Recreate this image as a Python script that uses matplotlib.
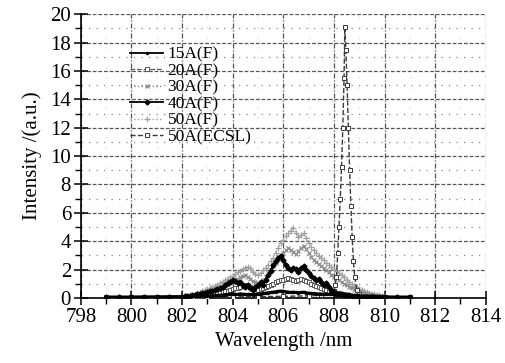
import matplotlib
matplotlib.use("Agg")
import matplotlib.pyplot as plt
from matplotlib.ticker import MultipleLocator
from matplotlib.lines import Line2D

plt.rcParams['font.family'] = ['Liberation Serif', 'DejaVu Serif']

wavelength = [799.0, 799.5, 800.0, 800.5, 801.0, 801.5,
              802.0, 802.1, 802.2, 802.3, 802.4, 802.5, 802.6, 802.7, 802.8, 802.9,
              803.0, 803.1, 803.2, 803.3, 803.4, 803.5, 803.6, 803.7, 803.8, 803.9,
              804.0, 804.1, 804.2, 804.3, 804.4, 804.5, 804.6, 804.7, 804.8, 804.9,
              805.0, 805.1, 805.2, 805.3, 805.4, 805.5, 805.6, 805.7, 805.8, 805.9,
              806.0, 806.1, 806.2, 806.3, 806.4, 806.5, 806.6, 806.7, 806.8, 806.9,
              807.0, 807.1, 807.2, 807.3, 807.4, 807.5, 807.6, 807.7, 807.8, 807.9,
              808.0, 808.1, 808.2, 808.3, 808.4, 808.5, 808.6, 808.7, 808.8, 808.9,
              809.0, 809.1, 809.2, 809.3, 809.4, 809.5, 809.6, 809.7, 809.8, 809.9,
              810.0, 810.5, 811.0]

i15 = [0.08, 0.08, 0.08, 0.09, 0.09, 0.10,
       0.10, 0.10, 0.11, 0.11, 0.12, 0.12, 0.13, 0.13, 0.14, 0.14,
       0.15, 0.16, 0.17, 0.18, 0.19, 0.20, 0.22, 0.24, 0.26, 0.28,
       0.30, 0.28, 0.26, 0.30, 0.28, 0.25, 0.27, 0.25, 0.24, 0.26,
       0.28, 0.30, 0.32, 0.35, 0.38, 0.40, 0.42, 0.45, 0.48, 0.50,
       0.48, 0.45, 0.42, 0.40, 0.42, 0.40, 0.38, 0.40, 0.42, 0.38,
       0.35, 0.33, 0.32, 0.30, 0.30, 0.29, 0.28, 0.28, 0.27, 0.26,
       0.25, 0.22, 0.20, 0.18, 0.16, 0.15, 0.14, 0.13, 0.12, 0.12,
       0.11, 0.11, 0.10, 0.10, 0.10, 0.10, 0.10, 0.09, 0.09, 0.09,
       0.09, 0.08, 0.08]

i20 = [0.03, 0.03, 0.03, 0.04, 0.04, 0.05,
       0.05, 0.06, 0.07, 0.08, 0.09, 0.10, 0.12, 0.14, 0.16, 0.18,
       0.20, 0.23, 0.26, 0.30, 0.34, 0.38, 0.42, 0.47, 0.52, 0.57,
       0.62, 0.68, 0.74, 0.80, 0.86, 0.90, 0.85, 0.75, 0.68, 0.62,
       0.60, 0.65, 0.72, 0.80, 0.88, 0.95, 1.02, 1.10, 1.18, 1.25,
       1.30, 1.35, 1.38, 1.32, 1.25, 1.20, 1.28, 1.35, 1.30, 1.22,
       1.12, 1.02, 0.93, 0.85, 0.78, 0.71, 0.64, 0.58, 0.52, 0.46,
       0.41, 0.36, 0.32, 0.28, 0.25, 0.22, 0.19, 0.17, 0.15, 0.13,
       0.11, 0.10, 0.09, 0.08, 0.07, 0.06, 0.06, 0.05, 0.05, 0.04,
       0.04, 0.03, 0.03]

i30 = [0.04, 0.04, 0.05, 0.05, 0.05, 0.06,
       0.07, 0.08, 0.10, 0.12, 0.14, 0.17, 0.20, 0.24, 0.28, 0.33,
       0.38, 0.43, 0.49, 0.55, 0.62, 0.70, 0.78, 0.86, 0.95, 1.05,
       1.15, 1.25, 1.35, 1.45, 1.55, 1.60, 1.50, 1.35, 1.20, 1.10,
       1.05, 1.15, 1.30, 1.50, 1.75, 2.00, 2.25, 2.50, 2.75, 3.00,
       3.20, 3.35, 3.50, 3.40, 3.25, 3.10, 3.30, 3.55, 3.70, 3.45,
       3.15, 2.90, 2.70, 2.55, 2.40, 2.25, 2.10, 1.95, 1.80, 1.65,
       1.50, 1.38, 1.26, 1.14, 1.02, 0.90, 0.80, 0.70, 0.60, 0.52,
       0.45, 0.39, 0.34, 0.29, 0.25, 0.22, 0.19, 0.16, 0.14, 0.12,
       0.10, 0.07, 0.05]

i40 = [0.05, 0.05, 0.06, 0.06, 0.07, 0.08,
       0.10, 0.12, 0.14, 0.16, 0.19, 0.22, 0.25, 0.30, 0.34, 0.38,
       0.42, 0.46, 0.50, 0.55, 0.62, 0.70, 0.80, 0.92, 1.05, 1.15,
       1.30, 1.20, 1.05, 1.15, 0.95, 0.80, 0.90, 0.70, 0.60, 0.75,
       0.90, 1.10, 0.95, 1.30, 1.60, 1.90, 2.30, 2.60, 2.85, 2.95,
       2.70, 2.35, 2.10, 1.95, 2.15, 2.05, 1.85, 2.10, 2.25, 2.00,
       1.75, 1.55, 1.40, 1.25, 1.35, 1.10, 0.95, 1.05, 0.80, 0.60,
       0.45, 0.35, 0.30, 0.25, 0.22, 0.20, 0.18, 0.16, 0.14, 0.12,
       0.11, 0.10, 0.09, 0.09, 0.08, 0.08, 0.07, 0.07, 0.07, 0.06,
       0.06, 0.05, 0.05]

i50 = [0.05, 0.05, 0.05, 0.06, 0.06, 0.08,
       0.10, 0.12, 0.15, 0.18, 0.22, 0.28, 0.33, 0.40, 0.47, 0.55,
       0.62, 0.70, 0.78, 0.86, 0.95, 1.05, 1.15, 1.25, 1.35, 1.45,
       1.55, 1.68, 1.80, 1.92, 2.05, 2.15, 2.20, 2.10, 1.85, 1.70,
       1.60, 1.75, 1.95, 2.10, 2.35, 2.60, 2.85, 3.20, 3.55, 3.85,
       4.10, 4.35, 4.55, 4.75, 4.90, 4.60, 4.30, 4.45, 4.60, 4.25,
       3.90, 3.60, 3.35, 3.15, 2.95, 2.80, 2.65, 2.50, 2.35, 2.20,
       2.05, 1.90, 1.75, 1.60, 1.45, 1.30, 1.15, 1.00, 0.88, 0.76,
       0.65, 0.56, 0.48, 0.41, 0.35, 0.30, 0.26, 0.22, 0.19, 0.16,
       0.14, 0.10, 0.08]

wavelength_ecsl = [799.0, 800.0, 801.0, 802.0, 803.0, 804.0, 805.0, 806.0, 807.0,
                   807.5, 807.9, 808.0, 808.05, 808.1, 808.15, 808.2, 808.25,
                   808.3, 808.35, 808.4, 808.43, 808.47, 808.52, 808.57, 808.62,
                   808.67, 808.72, 808.77, 808.82, 808.9, 809.0, 809.5, 810.0, 811.0]
i50_ecsl = [0.05, 0.05, 0.05, 0.06, 0.07, 0.08, 0.10, 0.12, 0.15,
            0.20, 0.35, 0.50, 0.90, 1.50, 3.20, 5.00, 7.00,
            9.20, 12.0, 15.5, 19.1, 17.5, 15.0, 12.0, 9.0,
            6.5, 4.3, 2.6, 1.5, 0.6, 0.3, 0.15, 0.08, 0.05]

labels = ['15A(F)', '20A(F)', '30A(F)', '40A(F)', '50A(F)', '50A(ECSL)']
x_ticks = [798, 800, 802, 804, 806, 808, 810, 812, 814]
y_ticks = [0, 2, 4, 6, 8, 10, 12, 14, 16, 18, 20]

fig = plt.figure(figsize=(5.05, 3.63), dpi=100)
ax = fig.add_axes([0.160, 0.179, 0.802, 0.782])

styles = [
    dict(color='black', ls='-', lw=2.0, marker='.', ms=3),
    dict(color='#555555', ls='--', lw=0.9, marker='s', ms=2.5, mfc='white', mew=0.7),
    dict(color='#8c8c8c', ls=':', lw=1.0, marker='x', ms=3.5, mew=0.9),
    dict(color='black', ls='-', lw=1.8, marker='D', ms=2.5),
    dict(color='#a0a0a0', ls=':', lw=1.0, marker='+', ms=4.5, mew=0.9),
    dict(color='#3a3a3a', ls='--', lw=1.0, marker='s', ms=2.5, mfc='white', mew=0.7),
]

ax.plot(wavelength, i50, zorder=3, **styles[4])
ax.plot(wavelength, i30, zorder=3, **styles[2])
ax.plot(wavelength, i20, zorder=4, **styles[1])
ax.plot(wavelength, i40, zorder=5, **styles[3])
ax.plot(wavelength, i15, zorder=6, **styles[0])
ax.plot(wavelength_ecsl, i50_ecsl, zorder=4, **styles[5])

ax.set_xlim(798, 814)
ax.set_ylim(0, 20)
ax.set_xticks(x_ticks)
ax.set_yticks(y_ticks)
ax.xaxis.set_minor_locator(MultipleLocator(1))
ax.yaxis.set_minor_locator(MultipleLocator(1))

ax.grid(which='major', axis='y', color='#555555', ls=(0, (3, 1.5)), lw=0.9)
ax.grid(which='minor', axis='y', color='#888888', ls=(0, (1, 5)), lw=0.9)
ax.grid(which='major', axis='x', color='#555555', ls=(0, (4, 1.5, 1, 1.5)), lw=0.9)
ax.grid(which='minor', axis='x', color='#d0d0d0', ls=(0, (1, 8)), lw=0.8)
ax.set_axisbelow(True)

for s in ['top', 'right']:
    ax.spines[s].set_visible(False)
for s in ['left', 'bottom']:
    ax.spines[s].set_linewidth(1.2)

ax.tick_params(which='major', direction='inout', length=10, width=1.1,
               labelsize=15, pad=2)
ax.tick_params(which='minor', direction='out', length=4, width=1.0)

ax.set_xlabel('Wavelength /nm', fontsize=15, labelpad=4)
ax.set_ylabel('Intensity /(a.u.)', fontsize=15, labelpad=6)

legend_styles = [dict(st) for st in styles]
for st in legend_styles:
    st['lw'] = min(st['lw'], 1.3)
handles = [Line2D([], [], **st) for st in legend_styles]
ax.legend(handles, labels, loc='upper left', bbox_to_anchor=(0.105, 0.91),
          frameon=False, fontsize=12.5, handlelength=1.9, handletextpad=0.25,
          labelspacing=0.02, borderaxespad=0.0, numpoints=1)

fig.savefig('out.png', dpi=100)
